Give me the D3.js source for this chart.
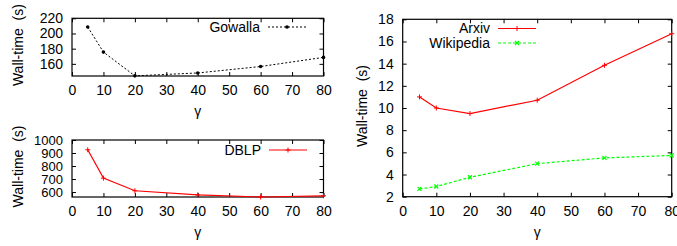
<!DOCTYPE html>
<html>
<head>
<meta charset="utf-8">
<script src="https://cdn.jsdelivr.net/npm/d3@7"></script>
<style>
	body { margin: 0; background: #fff; }
	svg text { font-family: "Liberation Sans", Arial, sans-serif; font-size: 14px; fill: #000; }
</style>
</head>
<body>
<svg id="chart" width="677" height="246"></svg>
<script>
// gamma values (x) shared by every series
var gammas = [5, 10, 20, 40, 60, 80];

// wall-time values
var wallGowalla = [208.5, 175.5, 144.2, 148, 156.5, 168.5];
var wallDblp = [925, 707, 610, 578, 562, 571];
var wallArxiv = [11.0, 10.0, 9.5, 10.7, 13.85, 16.7];
var wallWikipedia = [2.7, 2.92, 3.75, 4.98, 5.5, 5.72];

// tick labels
var xTicks = [0, 10, 20, 30, 40, 50, 60, 70, 80];
var gowallaTicks = [160, 180, 200, 220];
var dblpTicks = [600, 700, 800, 900, 1000];
var bigTicks = [2, 4, 6, 8, 10, 12, 14, 16, 18];

var svg = d3.select('#chart');
var fmt = d3.format('d');

function zip(ys) {
	return gammas.map((g, i) => ({t: g, v: ys[i]}));
}

// draws one framed gnuplot-like panel
function panel(opts) {
	var x = d3.scaleLinear().domain([0, 80]).range([opts.left, opts.right]);
	var y = d3.scaleLinear().domain(opts.yDomain).range([opts.bottom, opts.top]);
	var g = svg.append('g');

	// inward ticks, mirrored on top/right
	var tl = 4;
	g.append('g')
		.attr('transform', `translate(0, ${opts.bottom})`)
		.call(d3.axisBottom(x).tickValues(xTicks).tickFormat(fmt).tickSizeInner(-tl).tickSizeOuter(0).tickPadding(9))
		.call(s => s.select('.domain').remove());
	g.append('g')
		.attr('transform', `translate(0, ${opts.top})`)
		.call(d3.axisTop(x).tickValues(xTicks).tickSizeInner(-tl).tickSizeOuter(0).tickFormat(''))
		.call(s => s.select('.domain').remove());
	var yAxis = g.append('g')
		.attr('transform', `translate(${opts.left}, 0)`)
		.call(d3.axisLeft(y).tickValues(opts.yTicks).tickFormat(fmt).tickSizeInner(-tl).tickSizeOuter(0).tickPadding(9))
		.call(s => s.select('.domain').remove());
	g.append('g')
		.attr('transform', `translate(${opts.right}, 0)`)
		.call(d3.axisRight(y).tickValues(opts.yTicks).tickSizeInner(-tl).tickSizeOuter(0).tickFormat(''))
		.call(s => s.select('.domain').remove());
	g.selectAll('.tick line').attr('stroke', '#000');
	g.selectAll('.tick text').style('font-size', '14px').attr('font-family', null);
	// the dblp labels sit 13px apart, shrink them a bit
	if (opts.yTickFont) yAxis.selectAll('.tick text').style('font-size', opts.yTickFont);

	// frame
	g.append('rect')
		.attr('x', opts.left).attr('y', opts.top)
		.attr('width', opts.right - opts.left).attr('height', opts.bottom - opts.top)
		.attr('fill', 'none').attr('stroke', '#000').attr('stroke-width', 1.2);

	// axis titles
	g.append('text')
		.attr('transform', `translate(${opts.yLabelX}, ${(opts.top + opts.bottom) / 2 - 2}) rotate(-90)`)
		.attr('text-anchor', 'middle')
		.attr('dy', '0.35em')
		.style('white-space', 'pre')
		.text('Wall-time  (s)');
	g.append('text')
		.attr('x', (opts.left + opts.right) / 2)
		.attr('y', opts.bottom + 40)
		.attr('text-anchor', 'middle')
		.text('γ');

	return {x: x, y: y, g: g};
}

function marker(sel, shape, color) {
	if (shape === 'dot') {
		sel.append('circle').attr('r', 1.8).attr('fill', color);
	} else if (shape === 'plus') {
		sel.append('path').attr('d', 'M-2.5,0H2.5M0,-2.5V2.5').attr('stroke', color).attr('stroke-width', 1);
	} else {
		sel.append('path').attr('d', 'M-2,-2L2,2M-2,2L2,-2').attr('stroke', color).attr('stroke-width', 1.2);
	}
}

function series(p, ys, style, legend) {
	var data = zip(ys);
	var line = d3.line().x(d => p.x(d.t)).y(d => p.y(d.v));
	p.g.append('path')
		.datum(data)
		.attr('fill', 'none')
		.attr('stroke', style.color)
		.attr('stroke-width', style.width)
		.attr('stroke-dasharray', style.dash)
		.attr('d', line);
	p.g.selectAll(null)
		.data(data)
		.enter()
		.append('g')
		.attr('transform', d => `translate(${p.x(d.t)}, ${p.y(d.v)})`)
		.each(function() { marker(d3.select(this), style.shape, style.color); });

	// legend entry
	var lg = p.g.append('g').attr('transform', `translate(${legend.x}, ${legend.y})`);
	lg.append('text').attr('x', 0).attr('dy', '0.35em').attr('text-anchor', 'end').text(legend.name);
	lg.append('line')
		.attr('x1', 8).attr('x2', 46)
		.attr('stroke', style.color)
		.attr('stroke-width', style.width)
		.attr('stroke-dasharray', style.dash);
	marker(lg.append('g').attr('transform', 'translate(27, 0)'), style.shape, style.color);
}

// Gowalla panel (top left)
var pG = panel({left: 72, right: 323.5, top: 18.3, bottom: 76, yDomain: [144, 220], yTicks: gowallaTicks, yLabelX: 18});
series(pG, wallGowalla, {color: '#000', width: 1, dash: '2,2', shape: 'dot'}, {name: 'Gowalla', x: 260, y: 27});

// DBLP panel (bottom left)
var pD = panel({left: 72, right: 323.5, top: 140, bottom: 197, yDomain: [562, 1000], yTicks: dblpTicks, yLabelX: 18, yTickFont: '13px'});
series(pD, wallDblp, {color: '#ff0000', width: 1.2, dash: null, shape: 'plus'}, {name: 'DBLP', x: 261, y: 150});

// Arxiv / Wikipedia panel (right)
var pR = panel({left: 402.7, right: 671.7, top: 19.3, bottom: 196.7, yDomain: [2, 18], yTicks: bigTicks, yLabelX: 362});
series(pR, wallArxiv, {color: '#ff0000', width: 1.2, dash: null, shape: 'plus'}, {name: 'Arxiv', x: 490, y: 28.5});
series(pR, wallWikipedia, {color: '#00ff00', width: 1.2, dash: '3,2', shape: 'cross'}, {name: 'Wikipedia', x: 490, y: 43});
</script>
</body>
</html>
